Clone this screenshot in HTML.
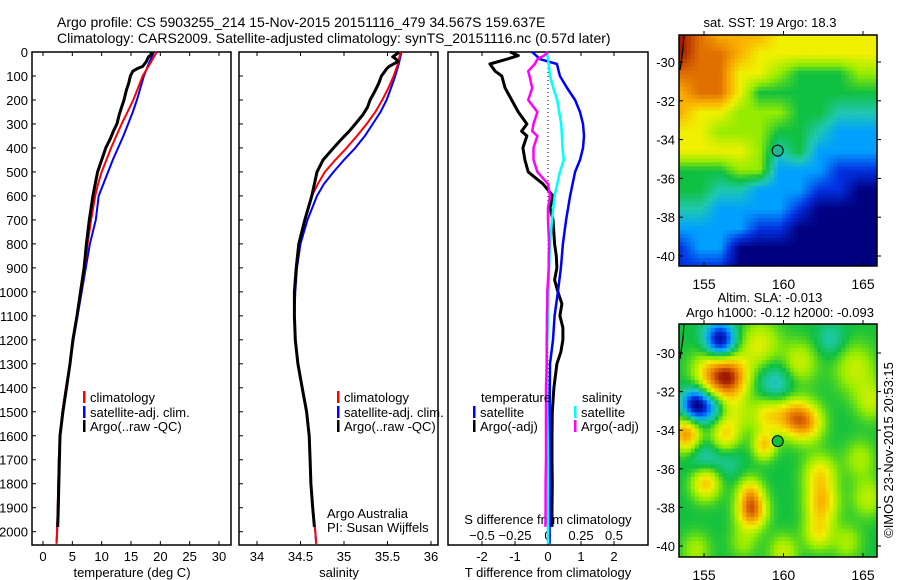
<!DOCTYPE html>
<html><head><meta charset="utf-8">
<style>
html,body{margin:0;padding:0;background:#fff;}
svg{display:block;font-family:"Liberation Sans",sans-serif;}
text{fill:#000;}
</style></head>
<body>
<svg id="fig" width="900" height="580" viewBox="0 0 900 580" xmlns="http://www.w3.org/2000/svg">
<rect width="900" height="580" fill="#fff"/>
<text x="57" y="27" font-size="14">Argo profile: CS 5903255_214 15-Nov-2015 20151116_479 34.567S 159.637E</text>
<text x="57" y="43" font-size="14">Climatology: CARS2009. Satellite-adjusted climatology: synTS_20151116.nc (0.57d later)</text>
<g id="p1"></g>
<g id="p2"></g>
<g id="p3"></g>
<g id="m1"></g>
<g id="m2"></g>
<text transform="translate(893,450) rotate(-90)" text-anchor="middle" font-size="13">©IMOS 23-Nov-2015 20:53:15</text>
</svg>
<script>
// ---- profile data ----
const depthGrid = [0,50,100,150,200,250,300,350,400,450,500,550,600,700,800,900,1000,1100,1200,1300,1400,1500,1600,1700,1800,1900,2000,2050];
const tempClim = [19.4,18.2,17.0,16.2,15.4,14.4,13.4,12.5,11.6,10.8,10.0,9.4,8.9,8.2,7.6,7.1,6.5,5.8,5.1,4.6,3.9,3.3,2.9,2.7,2.6,2.5,2.4,2.3];
const tempSat = [18.9,18.0,17.2,16.6,16.0,15.3,14.5,13.7,12.8,11.9,11.1,10.3,9.5,9.0,8.0,7.3,6.6,5.9,5.2,4.6,3.9,3.3,2.9,2.7,2.6,2.5,2.4,2.3];
const salClim = [35.65,35.62,35.57,35.51,35.44,35.36,35.26,35.15,35.03,34.90,34.78,34.70,34.63,34.55,34.48,34.45,34.43,34.43,34.44,34.47,34.52,34.57,34.60,34.61,34.62,34.64,34.67,34.68];
const salSat = [35.66,35.63,35.59,35.54,35.49,35.42,35.33,35.24,35.13,35.00,34.88,34.77,34.69,34.58,34.50,34.46,34.44,34.43,34.44,34.47,34.52,34.57,34.60,34.61,34.62,34.64,34.67,34.68];
const argoDepth = [0,10,20,30,40,60,70,80,100,130,160,200,230,260,300,330,360,400,450,500,550,600,700,800,900,1000,1100,1200,1300,1400,1500,1600,1700,1800,1900,1980];
const argoTemp = [18.4,18.5,18.0,17.8,17.6,17.0,16.0,15.3,14.9,14.6,14.2,13.8,13.4,13.0,12.6,12.0,11.5,10.7,10.0,9.3,8.9,8.5,7.9,7.4,7.0,6.4,5.8,5.1,4.6,4.0,3.4,2.9,2.8,2.7,2.6,2.5];
const argoSal = [35.63,35.60,35.56,35.60,35.62,35.52,35.49,35.47,35.43,35.40,35.36,35.30,35.27,35.22,35.13,35.06,34.98,34.88,34.76,34.69,34.66,34.63,34.55,34.48,34.45,34.43,34.43,34.44,34.47,34.52,34.57,34.60,34.61,34.62,34.64,34.66];
const diffDepth = [0,15,30,50,80,100,150,200,250,300,330,350,400,450,500,550,600,650,700,800,850,900,950,1000,1050,1100,1150,1200,1250,1300,1400,1500,1600,1700,1800,1900,1980];
const tArgoDiff = [-1.15,-0.9,-1.25,-1.76,-1.6,-1.4,-1.3,-1.1,-0.9,-0.64,-0.8,-0.64,-0.76,-0.7,-0.6,-0.15,0.15,0.06,0.15,0.2,0.25,0.27,0.2,0.3,0.42,0.36,0.45,0.45,0.39,0.27,0.18,0.13,0.12,0.12,0.13,0.12,0.12];
const sArgoDiff = [0,-0.03,-0.08,-0.1,-0.15,-0.14,-0.12,-0.15,-0.08,-0.11,-0.12,-0.08,-0.11,-0.11,-0.08,0,0.015,0,0,0.008,0.005,0.005,0,-0.005,-0.005,-0.008,-0.008,-0.01,-0.01,-0.01,-0.015,-0.015,-0.015,-0.015,-0.018,-0.018,-0.02];
const satDiffDepth = [0,30,50,100,150,200,250,300,350,400,450,500,600,700,800,900,1000,1100,1200,1300,1500,1700,2000,2050];
const tSatDiff = [-0.48,-0.24,0.27,0.36,0.58,0.82,0.97,1.06,1.09,1.06,0.97,0.82,0.67,0.55,0.45,0.39,0.3,0.2,0.15,0.06,0.05,0.05,0.05,0.05];
const sSatDiff = [-0.01,0,0.005,0.015,0.04,0.07,0.085,0.1,0.105,0.11,0.12,0.09,0.05,0.03,0.015,0.008,0.003,0,-0.005,-0.01,-0.005,0,0,0];
const depthTicks = [0,100,200,300,400,500,600,700,800,900,1000,1100,1200,1300,1400,1500,1600,1700,1800,1900,2000];
const tempTicks = [0,5,10,15,20,25,30];
const salTicks = [34,34.5,35,35.5,36];
const tDiffTicks = [-2,-1,0,1,2];
const sDiffTicks = [-0.5,-0.25,0,0.25,0.5];
// ---- map data ----
const sstLons = [153.5,154.75,156,157.25,158.5,159.75,161,162.25,163.5,164.75,166];
const sstLats = [-28.6,-29.6,-30.6,-31.6,-32.6,-33.6,-34.6,-35.6,-36.6,-37.6,-38.6,-39.6,-40.6];
const sstGrid = [
[9,8,7,7,7,6,6,6,6,6,6],
[9,8,8,7,6,6,6,6,6,6,6],
[8,8,8,6,6,5,4,4,4,5,5],
[7,8,8,6,4,4,4,4,4,4,4],
[7,6,6,5,5,5,4,4,3,3,3],
[6,6,5,5,5,4,4,3,2,2,2],
[6,6,6,6,5,3,4,2,2,2,2],
[4,4,4,5,5,2,2,2,1,1,1],
[4,4,3,3,2,2,2,1,1,0,0],
[3,3,2,2,2,2,1,0,0,0,0],
[2,2,2,2,1,1,0,0,0,0,0],
[1,2,2,0,0,0,0,0,0,0,0],
[1,1,1,0,0,0,0,0,0,0,0]];
const eddyLon = [156.0,155.7,156.8,154.5,155.6,159.5,163.0,159.0,160.5,161.5,153.9,156.3,158.8,155.0,156.5,155.1,158.0,157.9,162.3,162.4,162.2,164.5,158.5,161.0,165.5,164.8,165.3,157.0,160.0,154.5,164.0,157.5];
const eddyLat = [-29.4,-31.1,-31.3,-32.7,-32.8,-31.6,-29.3,-33.2,-33.3,-33.6,-34.2,-34.3,-34.8,-35.5,-35.6,-36.7,-38.2,-37.2,-36.3,-37.8,-39.3,-30.8,-29.6,-30.5,-32.5,-35.5,-37.5,-33.2,-40.3,-40.2,-39.8,-39.8];
const eddyAmp = [-4.2,3.5,3,-4.2,-1.5,-1.5,-1,2.2,2.8,2.8,3.5,2.2,2.5,-1.3,-0.8,2.8,3.8,2,2.2,2.6,2,1.5,1.8,1.6,1.4,1.2,1.4,1.2,1.5,1.2,1.2,1.0];
const eddyRad = [1.0,1.3,1.1,0.9,0.8,1.2,0.9,1.0,1.0,1.0,0.9,0.9,0.7,1.0,0.9,0.9,0.9,0.8,1.0,1.0,0.9,1.3,1.3,1.1,1.0,1.0,1.0,1.0,0.9,0.9,0.9,0.9];
const argoLon = 159.637, argoLat = -34.567;
const lonTicks = [155,160,165];
const latTicks = [-30,-32,-34,-36,-38,-40];

const NS = 'http://www.w3.org/2000/svg';
function mk(parent, tag, attrs){const e=document.createElementNS(NS,tag);for(const k in attrs)e.setAttribute(k,attrs[k]);parent.appendChild(e);return e;}
function txt(parent,x,y,s,size,anchor){const e=mk(parent,'text',{x:x,y:y,'font-size':size||13,'text-anchor':anchor||'start'});e.textContent=s;return e;}

const TOP=52, BOT=545, PX_PER_M=(531.7-52)/2000;
const yD = d => TOP + d*PX_PER_M;

function panelFrame(g,x0,x1,name){
  const r=mk(g,'rect',{x:x0,y:TOP,width:x1-x0,height:BOT-TOP,fill:'none',stroke:'#000','stroke-width':1.5});
  
  
}
function line(g,xs,ds,xf,color,w,name){
  let d='';xs.forEach((v,i)=>{d+=(i?'L':'M')+xf(v).toFixed(1)+','+yD(ds[i]).toFixed(1);});
  const p=mk(g,'path',{d:d,fill:'none',stroke:color,'stroke-width':w,'stroke-linejoin':'round'});
  
  
}
function legendEntry(g,x,y,color,label){
  const r=mk(g,'rect',{x:x,y:y-6,width:2.5,height:12,fill:color});
  
  
  const t=txt(g,x+7,y+5,label,13);
  
  
}

// ---- panel 1: temperature ----
const p1=document.getElementById('p1');
const xT = v => 43 + v*(219-43)/30;
panelFrame(p1,32,231,'temperature-panel');
depthTicks.forEach(d=>{mk(p1,'line',{x1:32,x2:36,y1:yD(d),y2:yD(d),stroke:'#000'});
  const t=txt(p1,28,yD(d)+5,String(d),13,'end');});
tempTicks.forEach(v=>{mk(p1,'line',{x1:xT(v),x2:xT(v),y1:BOT,y2:BOT-4,stroke:'#000'});mk(p1,'line',{x1:xT(v),x2:xT(v),y1:TOP,y2:TOP+4,stroke:'#000'});
  const t=txt(p1,xT(v),561,String(v),13,'middle');});
{const t=txt(p1,132,577,'temperature (deg C)',13,'middle');}
line(p1,tempSat,depthGrid,xT,'#0000ff',2,'temperature-satellite-line');
line(p1,tempClim,depthGrid,xT,'#ff0000',2,'temperature-climatology-line');
line(p1,argoTemp,argoDepth,xT,'#000',3,'temperature-argo-line');
legendEntry(p1,83,397,'#ff0000','climatology');
legendEntry(p1,83,412,'#0000ff','satellite-adj. clim.');
legendEntry(p1,83,426,'#000','Argo(..raw -QC)');

// ---- panel 2: salinity ----
const p2=document.getElementById('p2');
const xS = v => 257 + (v-34)*87;
panelFrame(p2,239,438,'salinity-panel');
depthTicks.forEach(d=>{mk(p2,'line',{x1:239,x2:243,y1:yD(d),y2:yD(d),stroke:'#000'});});
salTicks.forEach(v=>{mk(p2,'line',{x1:xS(v),x2:xS(v),y1:BOT,y2:BOT-4,stroke:'#000'});mk(p2,'line',{x1:xS(v),x2:xS(v),y1:TOP,y2:TOP+4,stroke:'#000'});
  const t=txt(p2,xS(v),561,String(v),13,'middle');});
{const t=txt(p2,339,577,'salinity',13,'middle');}
line(p2,salSat,depthGrid,xS,'#0000ff',2,'salinity-satellite-line');
line(p2,salClim,depthGrid,xS,'#ff0000',2,'salinity-climatology-line');
line(p2,argoSal,argoDepth,xS,'#000',3,'salinity-argo-line');
legendEntry(p2,337,397,'#ff0000','climatology');
legendEntry(p2,337,412,'#0000ff','satellite-adj. clim.');
legendEntry(p2,337,426,'#000','Argo(..raw -QC)');
{const t=txt(p2,327,518,'Argo Australia',13);
 const u=txt(p2,327,532,'PI: Susan Wijffels',13);}

// ---- panel 3: differences ----
const p3=document.getElementById('p3');
const xTd = v => 548 + v*33;
const xSd = v => 548 + v*132;
panelFrame(p3,448,648,'difference-panel');
mk(p3,'line',{x1:548,x2:548,y1:TOP,y2:BOT,stroke:'#000','stroke-dasharray':'1,3'});
tDiffTicks.forEach(v=>{mk(p3,'line',{x1:xTd(v),x2:xTd(v),y1:BOT,y2:BOT-4,stroke:'#000'});
  const t=txt(p3,xTd(v),561,String(v),13,'middle');});
sDiffTicks.forEach(v=>{mk(p3,'line',{x1:xSd(v),x2:xSd(v),y1:TOP,y2:TOP+4,stroke:'#000'});
  const t=txt(p3,xSd(v),540,String(v).replace('-','\u2212'),13,'middle');});
{const t=txt(p3,548,524,'S difference from climatology',13,'middle');
 const u=txt(p3,548,577,'T difference from climatology',13,'middle');}
line(p3,tArgoDiff,diffDepth,xTd,'#000',3,'t-diff-argo-line');
line(p3,tSatDiff,satDiffDepth,xTd,'#0000ff',2.5,'t-diff-satellite-line');
line(p3,sSatDiff,satDiffDepth,xSd,'#00ffff',2.5,'s-diff-satellite-line');
line(p3,sArgoDiff,diffDepth,xSd,'#ff00ff',2.5,'s-diff-argo-line');
{const t=txt(p3,481,402,'temperature',13);}
legendEntry(p3,473,412,'#0000ff','satellite');
legendEntry(p3,473,426,'#000','Argo(-adj)');
{const t=txt(p3,582,402,'salinity',13);}
legendEntry(p3,574,412,'#00ffff','satellite');
legendEntry(p3,574,426,'#ff00ff','Argo(-adj)');

// ---- maps ----
const cstops=[[0,0,128],[0,48,224],[0,160,255],[32,200,176],[16,192,64],[150,236,0],[240,240,0],[250,176,0],[224,112,0],[160,24,0]];
function cmap(v){v=Math.max(0,Math.min(9,v));const i=Math.min(8,Math.floor(v)),f=v-i;const a=cstops[i],b=cstops[i+1];
  return 'rgb('+a.map((c,k)=>Math.round(c+(b[k]-c)*f)).join(',')+')';}
function drawMap(id,y0,y1,lat30y,lat40y,valueAt,circleFill,title1,title2){
  const g=document.getElementById(id);
  const x0=679,x1=877;
  const xL = lon => 704 + (lon-155)*(863-704)/10;
  const yL = lat => lat30y + (-30-lat)*(lat40y-lat30y)/10;
  const lonAt = x => 155 + (x-704)*10/(863-704);
  const latAt = y => -30 - (y-lat30y)*10/(lat40y-lat30y);
  const nx=50, ny=58, cw=(x1-x0)/nx, ch=(y1-y0)/ny;
  const cells=mk(g,'g',{});
  
  
  for(let j=0;j<ny;j++)for(let i=0;i<nx;i++){
    const v=valueAt(lonAt(x0+(i+0.5)*cw),latAt(y0+(j+0.5)*ch));
    mk(cells,'rect',{x:(x0+i*cw).toFixed(2),y:(y0+j*ch).toFixed(2),width:(cw+0.5).toFixed(2),height:(ch+0.5).toFixed(2),fill:cmap(v)});
  }
  mk(g,'path',{d:`M${x0+5},${y0} L${x0+4},${y0+14} L${x0+1},${y0+35}`,fill:'none',stroke:'#000','stroke-width':1.2});
  mk(g,'rect',{x:x0,y:y0,width:x1-x0,height:y1-y0,fill:'none',stroke:'#000','stroke-width':1.5});
  lonTicks.forEach(l=>{mk(g,'line',{x1:xL(l),x2:xL(l),y1:y1,y2:y1-4,stroke:'#000'});mk(g,'line',{x1:xL(l),x2:xL(l),y1:y0,y2:y0-4,stroke:'#000'});
    const t=txt(g,xL(l),y1+23,String(l),14,'middle');});
  latTicks.forEach(l=>{mk(g,'line',{x1:x0,x2:x0+4,y1:yL(l),y2:yL(l),stroke:'#000'});mk(g,'line',{x1:x1,x2:x1+4,y1:yL(l),y2:yL(l),stroke:'#000'});
    const t=txt(g,675,yL(l)+5,'-'+String(-l),13,'end');});
  const c=mk(g,'circle',{cx:xL(argoLon),cy:yL(argoLat),r:5.5,fill:circleFill,stroke:'#000','stroke-width':1});
  
  
  if(title1){const t=txt(g,770,title2?302:27,title1,13,'middle');}
  if(title2){const t=txt(g,780,317,title2,13,'middle');}
}
function sstValue(lon,lat){
  let fi=(lon-sstLons[0])/(sstLons[1]-sstLons[0]), fj=(sstLats[0]-lat)/(sstLats[0]-sstLats[1]);
  fi=Math.max(0,Math.min(sstLons.length-1.001,fi)); fj=Math.max(0,Math.min(sstLats.length-1.001,fj));
  const i=Math.floor(fi),j=Math.floor(fj),a=fi-i,b=fj-j;
  return sstGrid[j][i]*(1-a)*(1-b)+sstGrid[j][i+1]*a*(1-b)+sstGrid[j+1][i]*(1-a)*b+sstGrid[j+1][i+1]*a*b;
}
function slaValue(lon,lat){
  let v=4;
  for(let k=0;k<eddyLon.length;k++){const dx=lon-eddyLon[k],dy=lat-eddyLat[k];v+=eddyAmp[k]*Math.exp(-(dx*dx+dy*dy)/(eddyRad[k]*eddyRad[k]));}
  return v;
}
drawMap('m1',35,266,62,256,sstValue,'#20b890','sat. SST: 19 Argo: 18.3',null);
drawMap('m2',324,557,353,546,slaValue,'#10c040','Altim. SLA: -0.013','Argo h1000: -0.12 h2000: -0.093');
</script>
</body></html>
